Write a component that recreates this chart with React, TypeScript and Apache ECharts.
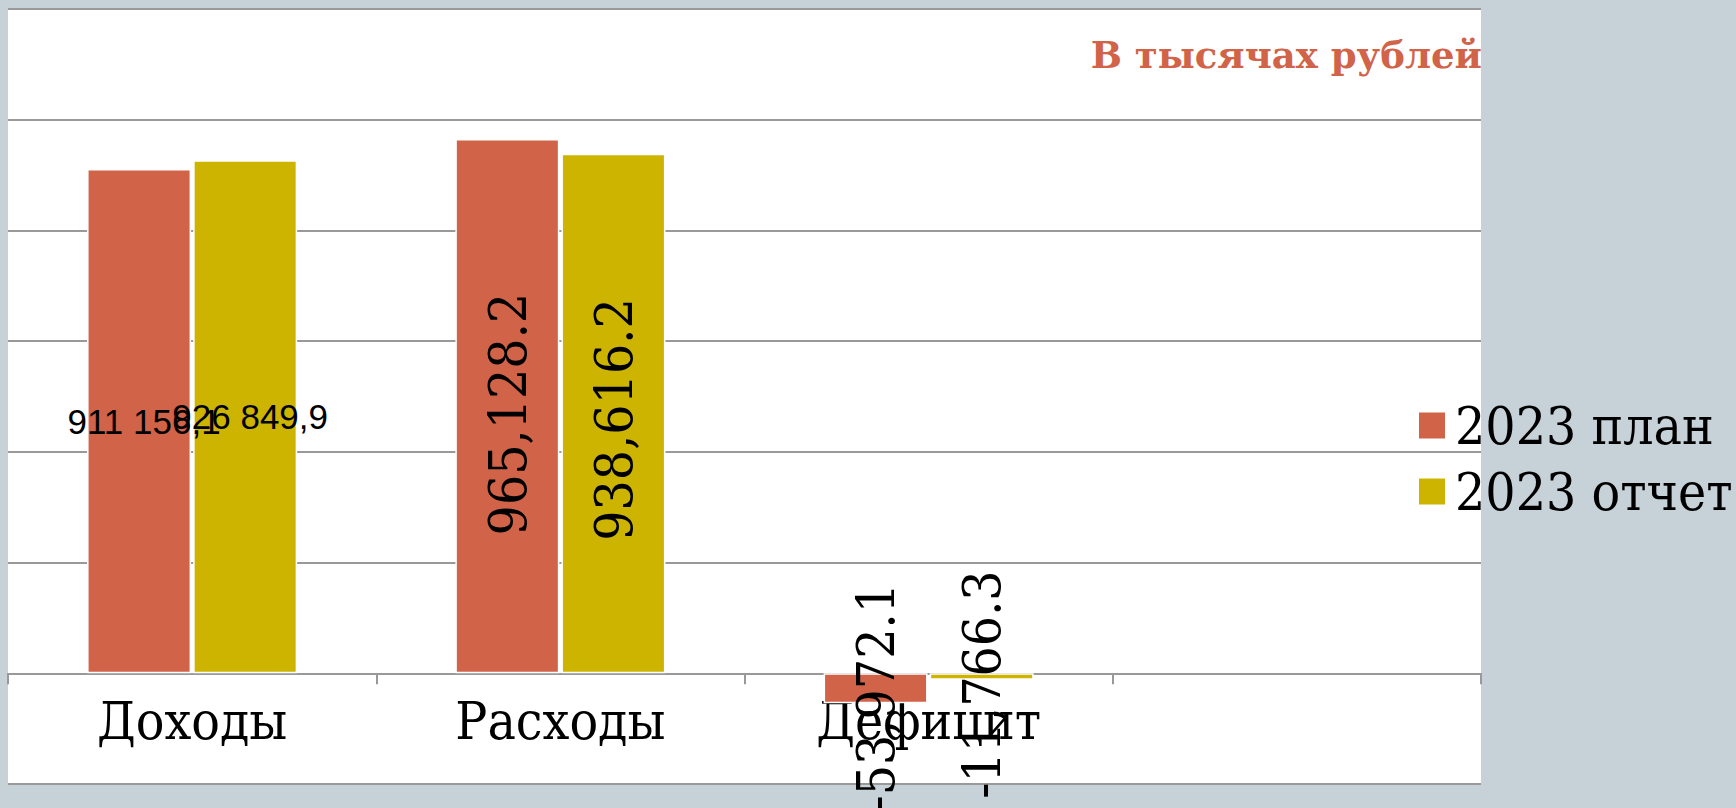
import React, { useEffect, useRef } from 'react';
import * as echarts from 'echarts';

const categories = ['Доходы', 'Расходы', 'Дефицит', ''];
const seriesNames = ['2023 план', '2023 отчет'];
const planValues: (number | null)[] = [911156.1, 965128.2, -53972.1, null];
const reportValues: (number | null)[] = [926849.9, 938616.2, -11766.3, null];
const labelFormats = ['ru', 'en', 'en', 'en'];
const labelRotations = [0, 90, 90, 0];
const yMin = -200000;
const yMax = 1200000;
const yInterval = 200000;
const titleText = 'В тысячах рублей';
const seriesColors = ['#D16349', '#CCB400'];
// downward shift (px) of rotated value labels, per series and category
const labelShifts = [
  [0, 8, 9, 0],
  [0, 6, 8, 0],
];

const SERIF = '"DejaVu Serif Condensed", "DejaVu Serif", serif';
const SERIF_WIDE = '"DejaVu Serif", serif';
const SANS = '"Liberation Sans", Arial, sans-serif';

function fmt(v: number, style: string): string {
  const fixed = Math.abs(v).toFixed(1);
  const [intPart, dec] = fixed.split('.');
  const sep = style === 'ru' ? ' ' : ',';
  const intS = intPart.replace(/\B(?=(\d{3})+(?!\d))/g, sep);
  return (v < 0 ? '-' : '') + intS + (style === 'ru' ? ',' : '.') + dec;
}

function labelFor(s: number, i: number) {
  if (labelRotations[i]) {
    return {
      rotate: labelRotations[i],
      fontFamily: SERIF,
      fontSize: 53,
      color: '#000',
      textBorderWidth: 0,
      // offset is rotated with the label: local -x is screen down
      offset: [-labelShifts[s][i], 0],
    };
  }
  return {
    fontFamily: SANS,
    fontSize: 35,
    color: '#000',
    textBorderWidth: 0,
    offset: [5, 0],
  };
}

function buildSeries(s: number, values: (number | null)[]) {
  return {
    type: 'bar',
    name: seriesNames[s],
    barWidth: 104,
    barGap: '2%',
    itemStyle: { color: seriesColors[s], borderColor: '#fff', borderWidth: 1.5 },
    label: {
      show: true,
      position: 'inside',
      color: '#000',
      textBorderWidth: 0,
      formatter: (p: any) => fmt(p.value, labelFormats[p.dataIndex]),
    },
    data: values.map((v, i) => (v == null ? null : { value: v, label: labelFor(s, i) })),
  };
}

export default function App() {
  const ref = useRef<HTMLDivElement>(null);
  useEffect(() => {
    if (!ref.current) return;
    const chart = echarts.init(ref.current, undefined, { renderer: 'svg' });
    chart.setOption({
      animation: false,
      backgroundColor: '#C6D1D8',
      title: {
        text: titleText,
        right: 249,
        top: 31,
        textStyle: { fontFamily: SERIF_WIDE, fontWeight: 'bold', fontSize: 37, color: '#D16349' },
      },
      legend: {
        orient: 'vertical',
        left: 1412,
        top: 394,
        itemWidth: 28,
        itemHeight: 28,
        itemGap: 13,
        icon: 'rect',
        data: seriesNames,
        textStyle: { fontFamily: SERIF, fontSize: 53, color: '#000', padding: [0, 0, 0, 4] },
      },
      grid: {
        left: 8,
        right: 255,
        top: 9,
        bottom: 24,
        show: true,
        backgroundColor: '#fff',
        borderWidth: 0,
        containLabel: false,
        outerBoundsMode: 'none',
      },
      xAxis: {
        type: 'category',
        data: categories,
        axisLine: { lineStyle: { color: '#999', width: 2 } },
        axisTick: { show: true, length: 11, lineStyle: { color: '#999', width: 2 } },
        axisLabel: { fontFamily: SERIF, fontSize: 53, color: '#000', margin: -90 },
      },
      yAxis: {
        type: 'value',
        min: yMin,
        max: yMax,
        interval: yInterval,
        axisLabel: { show: false },
        axisLine: { show: false },
        axisTick: { show: false },
        splitLine: { show: true, lineStyle: { color: '#999', width: 2 } },
      },
      series: [buildSeries(0, planValues), buildSeries(1, reportValues)],
    });
    return () => chart.dispose();
  }, []);
  return (
    <div
      ref={ref}
      style={{ position: 'fixed', left: 0, top: 0, width: 1736, height: 808 }}
    />
  );
}
